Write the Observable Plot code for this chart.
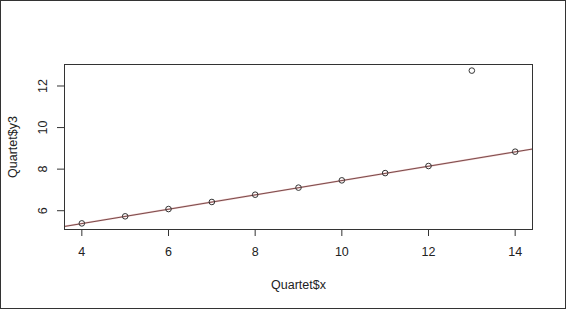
<!DOCTYPE html>
<html><head><meta charset="utf-8">
<script src="https://cdn.jsdelivr.net/npm/d3@7"></script>
<script src="https://cdn.jsdelivr.net/npm/@observablehq/plot@0.6"></script>
<style>
html,body{margin:0;padding:0;background:#fff;}
svg{display:block;}
</style></head>
<body><div id="chart"></div>
<script>
const xValues = [10, 8, 13, 9, 11, 14, 6, 4, 12, 7, 5];
const y3Values = [7.46, 6.77, 12.74, 7.11, 7.81, 8.84, 6.08, 5.39, 8.15, 6.42, 5.73];
const xTicks = [4, 6, 8, 10, 12, 14];
const yTicks = [6, 8, 10, 12];
const fitIntercept = 4.0;
const fitSlope = 0.345;

const points = xValues.map((x, i) => ({x, y: y3Values[i]}));
const xDomain = [3.6, 14.4];
const yDomain = [5.096, 13.034];
const fitLine = xDomain.map(x => ({x, y: fitIntercept + fitSlope * x}));

const W = 566, H = 309;
const border = () => {
  const r = d3.create("svg:rect")
    .attr("x", 0.5).attr("y", 0.5)
    .attr("width", W - 1).attr("height", H - 1)
    .attr("fill", "none").attr("stroke", "#333");
  return r.node();
};

const chart = Plot.plot({
  width: W, height: H,
  marginLeft: 64, marginRight: 34, marginTop: 64, marginBottom: 80,
  style: {fontFamily: "'Liberation Sans', Arial, sans-serif", fontSize: "12.5px", color: "#222", background: "#fff"},
  x: {domain: xDomain},
  y: {domain: yDomain},
  marks: [
    border,
    Plot.line(fitLine, {x: "x", y: "y", stroke: "#ecc8c8", strokeWidth: 1.8, clip: true}),
    Plot.line(fitLine, {x: "x", y: "y", stroke: "#6e3c3c", strokeWidth: 0.9, clip: true}),
    Plot.dot(points, {x: "x", y: "y", r: 2.8, stroke: "#333", strokeWidth: 1, fill: "none"}),
    Plot.frame({stroke: "#333", strokeWidth: 1}),
    Plot.axisX({ticks: xTicks, tickSize: 7, tickPadding: 11, label: "Quartet$x", labelAnchor: "center", labelOffset: 59, labelArrow: "none", stroke: "#333"}),
    Plot.axisY({ticks: yTicks, tickSize: 7, tickPadding: 11, tickRotate: -90, label: "Quartet$y3", labelAnchor: "center", labelOffset: 56, labelArrow: "none", stroke: "#333"})
  ]
});
document.getElementById("chart").appendChild(chart);
</script></body></html>
